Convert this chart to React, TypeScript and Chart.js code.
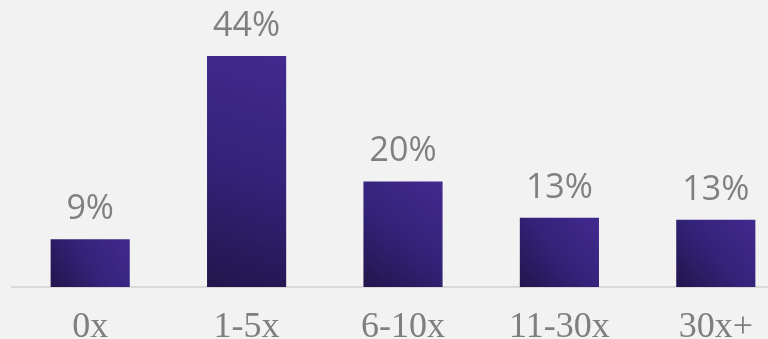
import React, { useEffect, useRef } from "react";
import { Chart, registerables } from "chart.js";

Chart.register(...registerables);

const categories = ["0x", "1-5x", "6-10x", "11-30x", "30x+"];
const shares = [9.1, 44, 20.1, 13.2, 12.8];
const shareLabels = ["9%", "44%", "20%", "13%", "13%"];

const valueLabelPlugin = {
  id: "valueLabels",
  afterDatasetsDraw(chart: any) {
    const ctx = chart.ctx;
    const meta = chart.getDatasetMeta(0);
    ctx.save();
    ctx.fillStyle = "#808080";
    ctx.font = "34px 'Open Sans'";
    ctx.textAlign = "center";
    ctx.textBaseline = "alphabetic";
    meta.data.forEach((bar: any, i: number) => {
      ctx.fillText(shareLabels[i], bar.x, bar.y - 20);
    });
    ctx.restore();
  },
};

export default function App() {
  const ref = useRef<HTMLCanvasElement | null>(null);
  useEffect(() => {
    if (!ref.current) return;
    const chart = new Chart(ref.current, {
      type: "bar",
      data: {
        labels: categories,
        datasets: [
          {
            data: shares,
            barPercentage: 0.506,
            categoryPercentage: 1,
            backgroundColor: (c: any) => {
              const ch = c.chart;
              const xs = ch.scales?.x;
              const ys = ch.scales?.y;
              if (!xs || !ys || c.dataIndex === undefined || !ch.chartArea) return "#33227a";
              const cx = xs.getPixelForValue(c.dataIndex);
              const half = (xs.width / categories.length) * 0.506 / 2;
              const top = ys.getPixelForValue(shares[c.dataIndex]);
              const bottom = ys.getPixelForValue(0);
              const g = ch.ctx.createLinearGradient(cx - half, bottom, cx + half, top);
              g.addColorStop(0, "#22154c");
              g.addColorStop(0.5, "#34237a");
              g.addColorStop(1, "#42298e");
              return g;
            },
          },
        ],
      },
      options: {
        responsive: false,
        animation: false,
        layout: { padding: { left: 12, right: 6, top: 0, bottom: 0 } },
        plugins: { legend: { display: false }, tooltip: { enabled: false } },
        scales: {
          y: { display: false, min: 0, max: 54.67 },
          x: {
            afterFit: (s: any) => {
              s.height = 52;
            },
            grid: { display: false, drawTicks: false },
            border: { display: true, color: "#d9d9d9", width: 2 },
            ticks: {
              color: "#7f7f7f",
              padding: 19,
              font: { family: "'Liberation Serif'", size: 36, lineHeight: 1.2 },
            },
          },
        },
      },
      plugins: [valueLabelPlugin],
    });
    return () => chart.destroy();
  }, []);
  return (
    <div
      style={{
        position: "fixed",
        left: 0,
        top: 0,
        width: 768,
        height: 339,
        overflow: "hidden",
        background: "#f2f2f2",
      }}
    >
      <canvas ref={ref} width={800} height={339} style={{ width: 800, height: 339, display: "block" }} />
    </div>
  );
}
